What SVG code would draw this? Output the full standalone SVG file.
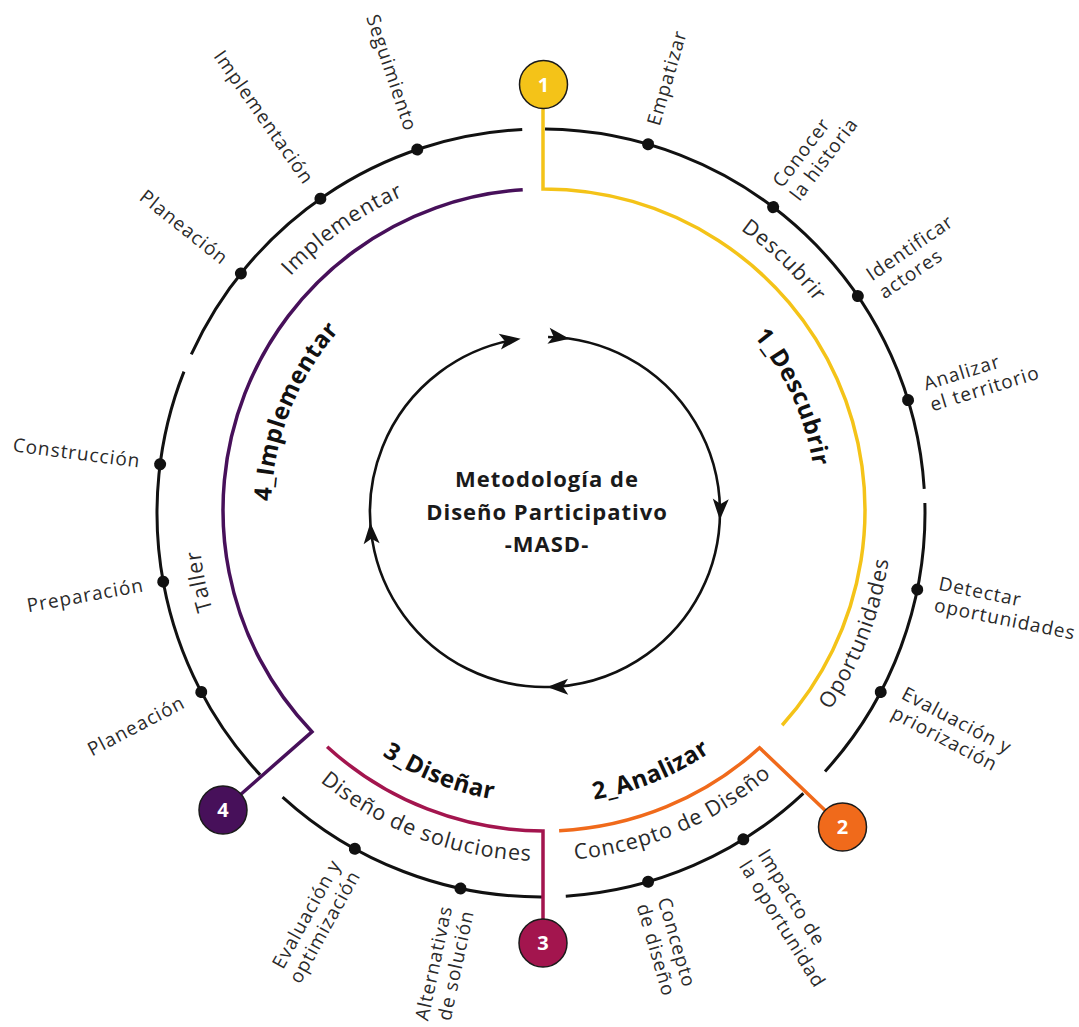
<svg xmlns="http://www.w3.org/2000/svg" width="1079" height="1027" viewBox="0 0 1079 1027">
<defs>
<style>
.ring{fill:none;stroke:#111;stroke-width:3}
.inner{fill:none;stroke:#111;stroke-width:2.6}
.dot{fill:#111}
.ah{fill:#111}
.lbl{font-family:'Open Sans','Liberation Sans',sans-serif;font-size:19px;letter-spacing:1px;fill:#2a2a2a}
.end{text-anchor:end}
.sub{font-family:'Open Sans','Liberation Sans',sans-serif;font-size:21.5px;letter-spacing:0.9px;fill:#2a2a2a;text-anchor:middle}
.phase{font-family:'Open Sans','Liberation Sans',sans-serif;font-size:24px;font-weight:700;letter-spacing:0.5px;fill:#111;text-anchor:middle}
.title{font-family:'Open Sans','Liberation Sans',sans-serif;font-size:22px;font-weight:700;letter-spacing:1px;fill:#1a1a1a;text-anchor:middle}
.num{font-family:'Open Sans','Liberation Sans',sans-serif;font-size:20px;font-weight:700;fill:#fff;text-anchor:middle}
.badge{stroke:#1a1a1a;stroke-width:1.5}
.arc{fill:none;stroke-width:3.5;stroke-linejoin:miter}
</style>
<path id="cwSub" d="M198,511 A344 344 0 0 1 886,511"/>
<path id="ccwSub" d="M192,511 A350 350 0 0 0 892,511"/>
<path id="cwPh" d="M271,511 A273 273 0 0 1 817,511"/>
<path id="ccwPh" d="M251,511 A293 293 0 0 0 837,511"/>
<path id="ahd" d="M0,0 L-21,-8 L-16,0 L-21,8 Z"/>
</defs>
<rect width="1079" height="1027" fill="#fff"/>

<g id="connectors">
<g id="outer-ring">
<path class="ring" d="M545.02,129.02 A384 384 0 0 1 924.24,488.89"/>
<path class="ring" d="M924.87,502.95 A384 384 0 0 1 825.02,771.44"/>
<path class="ring" d="M803.38,793.38 A384 384 0 0 1 565.78,896.20"/>
<path class="ring" d="M543.01,896.99 A384 384 0 0 1 282.56,797.02"/>
<path class="ring" d="M260.16,774.89 A384 384 0 0 1 183.97,371.64"/>
<path class="ring" d="M191.30,354.37 A384 384 0 0 1 522.24,129.46"/>
</g>
<g id="cycle-arrows">
<path class="inner" d="M548.05,337.03 A175 175 0 1 1 514.61,339.66"/>
<use href="#ahd" class="ah" transform="translate(520.64,338.70) rotate(-8)"/>
<use href="#ahd" class="ah" transform="translate(569.36,338.70) rotate(8)"/>
<use href="#ahd" class="ah" transform="translate(719.82,519.94) rotate(92.6)"/>
<use href="#ahd" class="ah" transform="translate(547.14,686.99) rotate(179.3)"/>
<use href="#ahd" class="ah" transform="translate(370.33,522.68) rotate(266.5)"/>
</g>
<path id="arc-1" class="arc" stroke="#F4C318" d="M543,100 L543,189 A321 321 0 0 1 782.17,725.21"/>
<path id="arc-2" class="arc" stroke="#F06A1B" d="M842.5,827 L759.59,747.81 A321 321 0 0 1 559.12,830.64"/>
<path id="arc-3" class="arc" stroke="#A3154E" d="M543,943 L543,831 A321 321 0 0 1 327.14,746.67"/>
<path id="arc-4" class="arc" stroke="#47105A" d="M223,810 L311.93,731.77 A321 321 0 0 1 522.73,189.71"/>
</g>

<g id="center">
<text class="title" x="547" y="487">Metodología de</text>
<text class="title" x="547" y="520">Diseño Participativo</text>
<text class="title" x="547" y="552">-MASD-</text>
</g>

<g id="phase-1">
<circle class="badge" cx="543.5" cy="84.5" r="24" fill="#F4C318"/>
<text class="num" x="543.5" y="91.5">1</text>
<text class="phase" transform="rotate(65.4 544 511)"><textPath href="#cwPh" startOffset="50%">1_Descubrir</textPath></text>
<text class="sub" transform="rotate(44 542 511)"><textPath href="#cwSub" startOffset="50%">Descubrir</textPath></text>
<text class="sub" transform="rotate(-68.7 542 511)"><textPath href="#ccwSub" startOffset="50%">Oportunidades</textPath></text>
<g transform="translate(648.13,144.25) rotate(-73.8)"><circle class="dot" r="6"/><text class="lbl" x="20" y="6">Empatizar</text></g>
<g transform="translate(773.17,207.13) rotate(-52.8)"><circle class="dot" r="6"/><text class="lbl" x="20" y="-4">Conocer</text><text class="lbl" x="20" y="18">la historia</text></g>
<g transform="translate(857.84,296.05) rotate(-34.4)"><circle class="dot" r="6"/><text class="lbl" x="20" y="-4">Identificar</text><text class="lbl" x="20" y="18">actores</text></g>
<g transform="translate(908.02,400.09) rotate(-17.1)"><circle class="dot" r="6"/><text class="lbl" x="20" y="-4">Analizar</text><text class="lbl" x="20" y="18">el territorio</text></g>
<g transform="translate(917.29,589.56) rotate(11.5)"><circle class="dot" r="6"/><text class="lbl" x="20" y="-4">Detectar</text><text class="lbl" x="20" y="18">oportunidades</text></g>
<g transform="translate(880.68,692.09) rotate(27.8)"><circle class="dot" r="6"/><text class="lbl" x="20" y="-4">Evaluación y</text><text class="lbl" x="20" y="18">priorización</text></g>
</g>

<g id="phase-2">
<circle class="badge" cx="842.5" cy="827" r="24" fill="#F06A1B"/>
<text class="num" x="842.5" y="834">2</text>
<text class="phase" transform="rotate(-22.25 544 511)"><textPath href="#ccwPh" startOffset="50%">2_Analizar</textPath></text>
<text class="sub" transform="rotate(-23.2 542 511)"><textPath href="#ccwSub" startOffset="50%">Concepto de Diseño</textPath></text>
<g transform="translate(743.35,839.36) rotate(58.2)"><circle class="dot" r="6"/><text class="lbl" x="20" y="-4">Impacto de</text><text class="lbl" x="20" y="18">la oportunidad</text></g>
<g transform="translate(648.13,881.75) rotate(73.8)"><circle class="dot" r="6"/><text class="lbl" x="20" y="-4">Concepto</text><text class="lbl" x="20" y="18">de diseño</text></g>
</g>

<g id="phase-3">
<circle class="badge" cx="543" cy="943" r="24" fill="#A3154E"/>
<text class="num" x="543" y="950">3</text>
<text class="phase" transform="rotate(21.75 544 511)"><textPath href="#ccwPh" startOffset="50%">3_Diseñar</textPath></text>
<text class="sub" transform="rotate(20.55 542 511)"><textPath href="#ccwSub" startOffset="50%">Diseño de soluciones</textPath></text>
<g transform="translate(460.51,888.47) rotate(-77.9)"><circle class="dot" r="6"/><text class="lbl end" x="-20" y="-4">Alternativas</text><text class="lbl end" x="-20" y="18">de solución</text></g>
<g transform="translate(354.83,848.85) rotate(-61)"><circle class="dot" r="6"/><text class="lbl end" x="-20" y="-4">Evaluación y</text><text class="lbl end" x="-20" y="18">optimización</text></g>
</g>

<g id="phase-4">
<circle class="badge" cx="223" cy="810" r="24" fill="#47105A"/>
<text class="num" x="223" y="817">4</text>
<text class="phase" transform="rotate(291.75 544 511)"><textPath href="#cwPh" startOffset="50%">4_Implementar</textPath></text>
<text class="sub" transform="rotate(258.4 542 511)"><textPath href="#cwSub" startOffset="50%">Taller</textPath></text>
<text class="sub" transform="rotate(324.7 542 511)"><textPath href="#cwSub" startOffset="50%">Implementar</textPath></text>
<g transform="translate(201.32,692.09) rotate(-27.8)"><circle class="dot" r="6"/><text class="lbl end" x="-20" y="6">Planeación</text></g>
<g transform="translate(163.19,581.66) rotate(-10.3)"><circle class="dot" r="6"/><text class="lbl end" x="-20" y="6">Preparación</text></g>
<g transform="translate(160.11,464.21) rotate(7.3)"><circle class="dot" r="6"/><text class="lbl end" x="-20" y="6">Construcción</text></g>
<g transform="translate(240.90,273.43) rotate(38.6)"><circle class="dot" r="6"/><text class="lbl end" x="-20" y="6">Planeación</text></g>
<g transform="translate(320.41,198.68) rotate(54.9)"><circle class="dot" r="6"/><text class="lbl end" x="-20" y="6">Implementación</text></g>
<g transform="translate(417.25,149.49) rotate(71.2)"><circle class="dot" r="6"/><text class="lbl end" x="-20" y="6">Seguimiento</text></g>
</g>
</svg>
